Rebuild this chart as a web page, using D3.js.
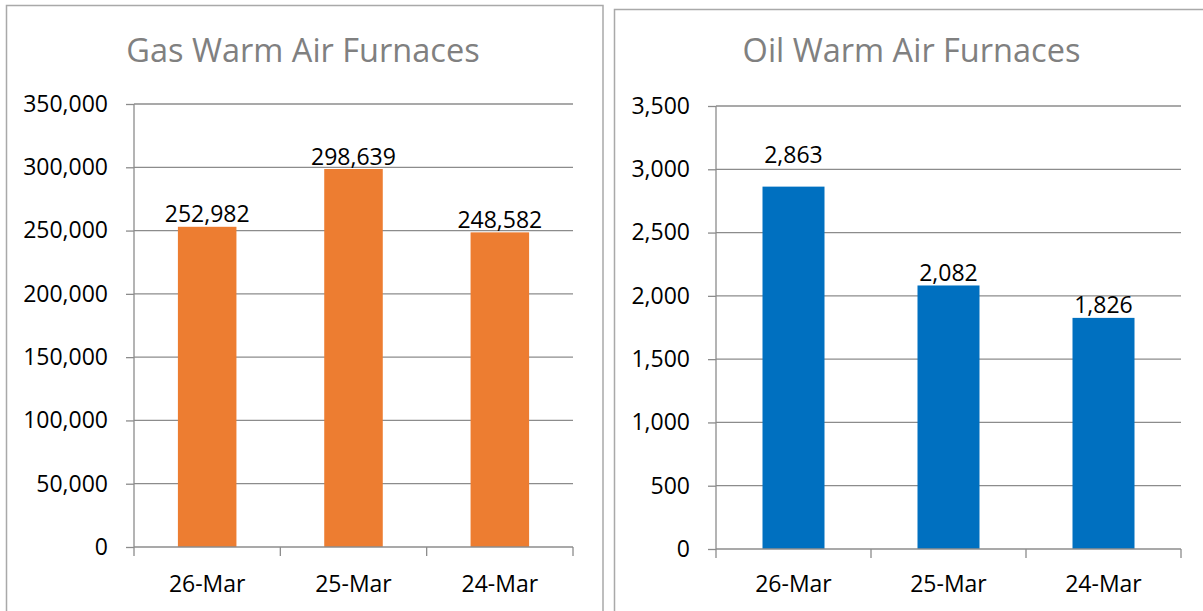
<!DOCTYPE html>
<html lang="en">
	<head>
		<meta charset="utf-8">
		<title>furnaces</title>
		<script type="text/javascript" src="https://d3js.org/d3.v7.min.js"></script>
		<style type="text/css">
            body{margin:0;background:#fff;font-family:"Open Sans",sans-serif;}
            #chart{width:1203px;height:611px;}
		</style>
	</head>
	<body>
    <div id="chart"></div>
		<script type="text/javascript">
            // data
            var categories = ["26-Mar","25-Mar","24-Mar"]
            var gasValues = [252982, 298639, 248582]
            var oilValues = [2863, 2082, 1826]
            var gasTicks = [0,50000,100000,150000,200000,250000,300000,350000]
            var oilTicks = [0,500,1000,1500,2000,2500,3000,3500]

            var svg = d3.select("#chart")
                        .append("svg")
                        .attr("width",1203)
                        .attr("height",611)

            var fmt = d3.format(",")

            function drawChart(opt){
                var g = svg.append("g")

                // outer panel border
                g.append("rect")
                    .attr("x",opt.box[0])
                    .attr("y",opt.box[1])
                    .attr("width",opt.box[2])
                    .attr("height",opt.box[3])
                    .attr("fill","#fff")
                    .attr("stroke","#a9a9a9")
                    .attr("stroke-width",1.5)

                g.append("text")
                    .attr("x",opt.titleX)
                    .attr("y",62)
                    .attr("text-anchor","middle")
                    .attr("font-size","32.5px")
                    .attr("fill","#808080")
                    .text(opt.title)

                var xScale = d3.scaleBand()
                    .domain(categories)
                    .range([opt.left,opt.right])
                    .paddingInner(0)

                var yScale = d3.scaleLinear()
                    .domain([0,opt.ticks[opt.ticks.length-1]])
                    .range([opt.bottom,opt.top])

                // gridlines
                g.selectAll(".grid")
                    .data(opt.ticks.slice(1))
                    .enter()
                    .append("line")
                    .attr("x1",opt.left)
                    .attr("x2",opt.right)
                    .attr("y1",function(d){ return yScale(d) })
                    .attr("y2",function(d){ return yScale(d) })
                    .attr("stroke","#8c8c8c")
                    .attr("stroke-width",1.3)

                // y axis
                var yAxis = d3.axisLeft(yScale)
                    .tickValues(opt.ticks)
                    .tickFormat(fmt)
                    .tickSize(8)
                    .tickPadding(18)
                var ya = g.append("g")
                    .attr("transform","translate("+opt.left+",0)")
                    .call(yAxis)
                ya.select(".domain").remove()
                ya.append("line")
                    .attr("y1",opt.top).attr("y2",opt.bottom)
                ya.selectAll("line").attr("stroke","#8c8c8c").attr("stroke-width",1.3)
                ya.selectAll("text")
                    .attr("font-family","Open Sans")
                    .attr("font-size","23px")
                    .attr("fill","#000")

                // bars
                var bw = xScale.bandwidth()/2.5
                g.selectAll(".bar")
                    .data(opt.values)
                    .enter()
                    .append("rect")
                    .attr("x",function(d,i){ return xScale(categories[i]) + (xScale.bandwidth()-bw)/2 })
                    .attr("y",function(d){ return yScale(d) })
                    .attr("width",bw)
                    .attr("height",function(d){ return opt.bottom - yScale(d) })
                    .attr("fill",opt.color)

                // x axis
                var xa = g.append("g")
                    .attr("transform","translate(0,"+opt.bottom+")")
                xa.append("line")
                    .attr("x1",opt.left).attr("x2",opt.right)
                var edges = categories.map(function(c){ return xScale(c) }).concat([opt.right])
                xa.selectAll(".tk")
                    .data(edges)
                    .enter()
                    .append("line")
                    .attr("x1",function(d){ return d })
                    .attr("x2",function(d){ return d })
                    .attr("y1",0).attr("y2",9)
                xa.selectAll("line").attr("stroke","#8c8c8c").attr("stroke-width",1.3)
                xa.selectAll(".lab")
                    .data(categories)
                    .enter()
                    .append("text")
                    .attr("x",function(d){ return xScale(d)+xScale.bandwidth()/2 })
                    .attr("y",592 - opt.bottom)
                    .attr("text-anchor","middle")
                    .attr("font-size","23px")
                    .attr("fill","#000")
                    .text(function(d){ return d })

                // value labels
                g.selectAll(".val")
                    .data(opt.values)
                    .enter()
                    .append("text")
                    .attr("x",function(d,i){ return xScale(categories[i])+xScale.bandwidth()/2 })
                    .attr("y",function(d,i){ return yScale(d) - 4.5 - (opt.lift[i]||0) })
                    .attr("text-anchor","middle")
                    .attr("font-size","23px")
                    .attr("fill","#000")
                    .text(function(d){ return fmt(d) })
            }

            drawChart({
                box:[6.5,5.5,596.5,620],
                title:"Gas Warm Air Furnaces",
                titleX:303,
                left:134, right:573, top:104, bottom:547,
                ticks:gasTicks,
                values:gasValues,
                color:"#ED7D31",
                lift:[]
            })

            drawChart({
                box:[614.5,9.5,600,620],
                title:"Oil Warm Air Furnaces",
                titleX:911.5,
                left:716, right:1181, top:106, bottom:549,
                ticks:oilTicks,
                values:oilValues,
                color:"#0070C0",
                lift:[19]
            })
        </script>
	</body>
</html>
